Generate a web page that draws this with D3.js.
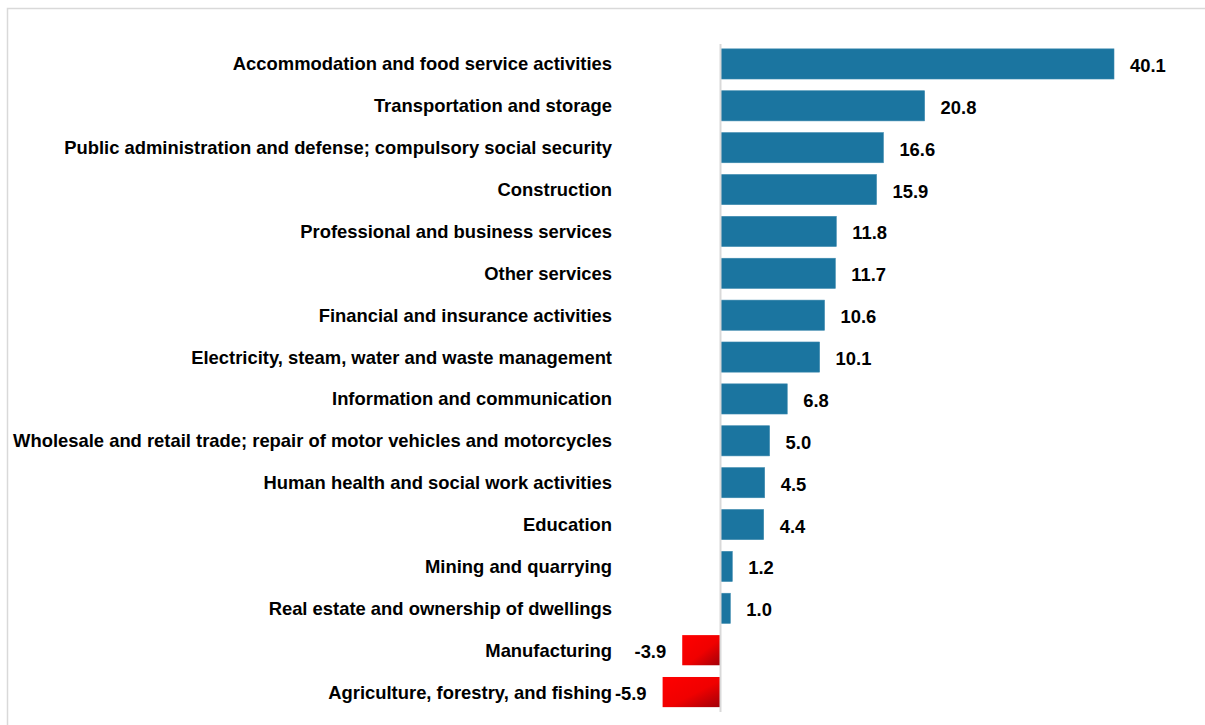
<!DOCTYPE html>
<html>
<head>
<meta charset="utf-8">
<script src="https://cdn.jsdelivr.net/npm/d3@7"></script>
<style>
  body { margin: 0; background: #fff; }
  text { font-family: "Liberation Sans", Arial, sans-serif; font-weight: bold; }
</style>
</head>
<body>
<svg id="chart" width="1205" height="725"></svg>
<script>
// categories top to bottom
var categories = [
  "Accommodation and food service activities",
  "Transportation and storage",
  "Public administration and defense; compulsory social security",
  "Construction",
  "Professional and business services",
  "Other services",
  "Financial and insurance activities",
  "Electricity, steam, water and waste management",
  "Information and communication",
  "Wholesale and retail trade; repair of motor vehicles and motorcycles",
  "Human health and social work activities",
  "Education",
  "Mining and quarrying",
  "Real estate and ownership of dwellings",
  "Manufacturing",
  "Agriculture, forestry, and fishing"
];
var values = [40.1, 20.8, 16.6, 15.9, 11.8, 11.7, 10.6, 10.1, 6.8, 5.0, 4.5, 4.4, 1.2, 1.0, -3.9, -5.9];

var svg = d3.select("#chart");

// outer frame
svg.append("rect")
  .attr("x", 7.5).attr("y", 8.5)
  .attr("width", 1210).attr("height", 730)
  .attr("fill", "none")
  .attr("stroke", "#d9d9d9")
  .attr("stroke-width", 1.5);

var defs = svg.append("defs");
var grad = defs.append("linearGradient")
  .attr("id", "negGrad")
  .attr("x1", "0%").attr("y1", "0%")
  .attr("x2", "100%").attr("y2", "100%");
grad.append("stop").attr("offset", "0%").attr("stop-color", "#ff0000");
grad.append("stop").attr("offset", "55%").attr("stop-color", "#f00000");
grad.append("stop").attr("offset", "100%").attr("stop-color", "#a00008");

var x = d3.scaleLinear().domain([0, 40.1]).range([720.5, 1114]);
var y = d3.scaleBand()
  .domain(categories)
  .range([43, 713])
  .paddingInner(0.28)
  .paddingOuter(0.14);

var rows = categories.map(function(c, i) { return {name: c, value: values[i]}; });

svg.selectAll("rect.bar")
  .data(rows)
  .enter().append("rect")
  .attr("class", "bar")
  .attr("x", function(d) { return Math.min(x(0), x(d.value)); })
  .attr("y", function(d) { return y(d.name); })
  .attr("width", function(d) { return Math.abs(x(d.value) - x(0)); })
  .attr("height", y.bandwidth())
  .attr("fill", function(d) { return d.value < 0 ? "url(#negGrad)" : "#1b75a0"; })
  .attr("stroke", function(d) { return d.value < 0 ? "none" : "#3a88ad"; })
  .attr("stroke-width", 0.6);

// zero axis line
svg.append("line")
  .attr("x1", x(0)).attr("x2", x(0))
  .attr("y1", 44).attr("y2", 712)
  .attr("stroke", "#d9d9d9")
  .attr("stroke-width", 2);

// category labels
svg.selectAll("text.cat")
  .data(rows)
  .enter().append("text")
  .attr("class", "cat")
  .attr("x", 612)
  .attr("y", function(d) { return y(d.name) + y.bandwidth() / 2; })
  .attr("dy", "0.35em")
  .attr("text-anchor", "end")
  .attr("font-size", 18.4)
  .attr("fill", "#000")
  .text(function(d) { return d.name; });

// value labels
svg.selectAll("text.val")
  .data(rows)
  .enter().append("text")
  .attr("class", "val")
  .attr("x", function(d) { return d.value < 0 ? x(d.value) - 16 : x(d.value) + 16; })
  .attr("y", function(d) { return y(d.name) + y.bandwidth() / 2 + 1.5; })
  .attr("dy", "0.35em")
  .attr("text-anchor", function(d) { return d.value < 0 ? "end" : "start"; })
  .attr("font-size", 18.4)
  .attr("fill", "#000")
  .text(function(d) { return d.value.toFixed(1); });
</script>
</body>
</html>
